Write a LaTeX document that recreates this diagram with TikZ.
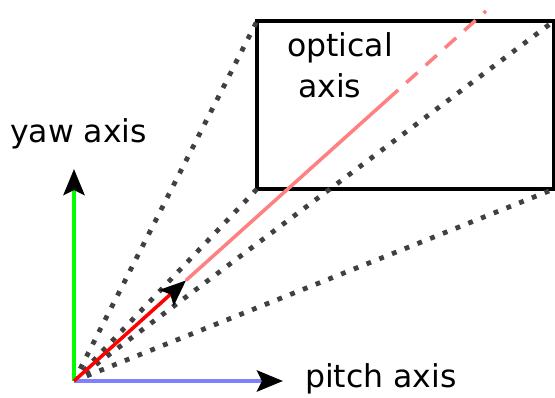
\documentclass[tikz,border=0pt]{standalone}
\usepackage{fontspec}
\setmainfont{DejaVu Sans}
\usetikzlibrary{arrows.meta,positioning}
\definecolor{yawGreen}{RGB}{0,255,0}
\definecolor{pitchBlue}{RGB}{128,128,255}
\definecolor{axisPink}{RGB}{255,128,128}
\tikzset{
    lbl/.style={font=\fontsize{31.5}{41}\selectfont, inner sep=0pt},
    tipblack/.style={-{Stealth[black, length=26pt, width=21pt, inset=5pt]}},
    fov/.style={black!75, line width=4.8pt, dash pattern=on 4.8pt off 8.9pt}
}

\begin{document}
\begin{tikzpicture}[x=1pt, y=-1pt]
    \useasboundingbox (0,0) rectangle (555,398);
    \coordinate (o) at (74,381);
    \coordinate (yawtip) at (74,169);
    \coordinate (pitchtip) at (283,381);
    \coordinate (ptip) at (186,280.4);
    \coordinate (pbreak) at (387,100);
    \coordinate (pend) at (486,11);
    \node[draw, line width=4.5pt, outer sep=0pt, minimum width=297pt, minimum height=168pt] (screen) at (405.5,105) {};
    \foreach \c in {north west, south west, south east, north east} {
        \draw[fov] (o) -- (screen.\c);
    }
    \node[lbl, align=left, anchor=base west] (optlbl) at (287,98) {optical\\\hspace*{11pt}axis};
    \draw[axisPink, line width=3.5pt] (ptip) -- (pbreak);
    \draw[axisPink, line width=3.5pt, dash pattern=on 15pt off 11pt] (pbreak) -- (pend);
    \draw[yawGreen, line width=4.5pt, tipblack] (o) -- (yawtip);
    \draw[pitchBlue, line width=4.5pt, tipblack] (o) -- (pitchtip);
    \draw[red, line width=3.5pt, tipblack] (o) -- (ptip);
    \node[lbl, anchor=base] (yawlbl) at (78.5,143) {yaw axis};
    \node[lbl, anchor=base west] (pitchlbl) at (305,388) {pitch axis};
\end{tikzpicture}
\end{document}
